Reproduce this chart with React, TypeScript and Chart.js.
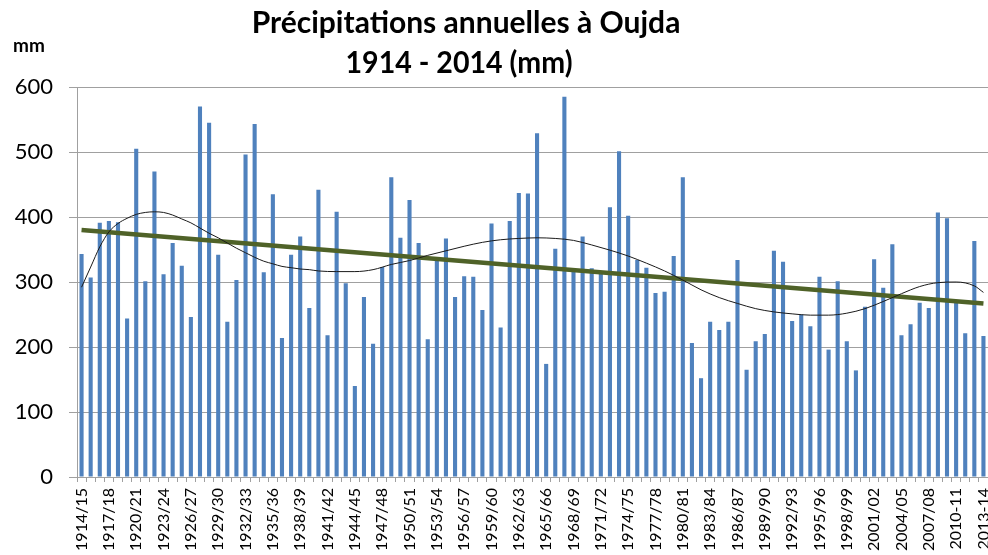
import React, { useEffect, useRef } from 'react';
import { Chart, registerables } from 'chart.js';

Chart.register(...registerables);

// ---------- data ----------
const firstYear = 1914;
const seasonCount = 100;
const seasons: string[] = [];
for (let i = 0; i < seasonCount; i++) {
  const y = firstYear + i;
  const next = String((y + 1) % 100).padStart(2, '0');
  seasons.push(y >= 2008 ? `${y}-${next}` : `${y}/${next}`);
}

const rainfall: number[] = [
  343, 307, 391, 394, 392, 244, 505, 301, 470, 312,
  360, 325, 246, 570, 545, 342, 239, 303, 496, 543,
  315, 435, 214, 342, 370, 260, 442, 218, 408, 298,
  140, 277, 205, 323, 461, 368, 426, 360, 212, 336,
  367, 277, 309, 308, 257, 390, 230, 394, 437, 436,
  529, 174, 351, 585, 317, 370, 321, 313, 415, 501,
  402, 334, 322, 283, 285, 340, 461, 206, 152, 239,
  226, 239, 334, 165, 209, 220, 348, 331, 240, 250,
  232, 308, 196, 301, 209, 164, 262, 335, 291, 358,
  218, 235, 268, 260, 407, 398, 268, 221, 363, 217,
];

// linear trend line end values
const trendStart = 380;
const trendEnd = 267;

// polynomial trend curve, read at these category indices
const polyIdx: number[] = [
  0, 1, 2, 3, 4, 5, 6, 7, 8, 9, 10, 11, 12, 13, 14, 15, 16, 17, 18, 19, 20,
  21, 22, 23, 24, 25, 26, 28, 30, 32, 34, 36, 38, 40, 42, 44, 46, 48, 50,
  52, 54, 56, 58, 60, 62, 64, 66, 68, 70, 72, 74, 76, 78, 80, 82, 84, 86,
  88, 90, 92, 94, 96, 98, 99,
];
const polyVal: number[] = [
  292, 323, 354, 377, 390, 398, 404, 407, 408, 407, 403, 397, 391, 383, 375,
  368, 360, 352, 345, 338, 332, 328, 324, 322, 320, 319, 317, 316, 316, 319,
  327, 333, 341, 348, 355, 361, 365, 367, 368, 367, 364, 357, 349, 340, 329,
  317, 303, 288, 276, 267, 259, 254, 251, 249, 249, 252, 259, 270, 282, 293,
  299, 300, 294, 284,
];

const yMin = 0;
const yMax = 600;
const yStep = 100;

const titleLines = ['Précipitations annuelles à Oujda', '1914 - 2014 (mm)'];
const unitLabel = 'mm';

// ---------- chart ----------
const W = 988;
const H = 555;

export default function App() {
  const ref = useRef<HTMLCanvasElement | null>(null);

  useEffect(() => {
    const canvas = ref.current;
    if (!canvas) return;

    const trendData: (number | null)[] = seasons.map(() => null);
    trendData[0] = trendStart;
    trendData[seasons.length - 1] = trendEnd;

    const polyData: (number | null)[] = seasons.map(() => null);
    polyIdx.forEach((idx, k) => {
      polyData[idx] = polyVal[k];
    });

    const textPlugin = {
      id: 'customTexts',
      afterDraw(chart: any) {
        const ctx = chart.ctx as CanvasRenderingContext2D;
        ctx.save();
        ctx.fillStyle = '#000000';
        ctx.textBaseline = 'alphabetic';
        ctx.textAlign = 'center';
        ctx.font = 'bold 30px Lato';
        ctx.fillText(titleLines[0], 466, 33, 432);
        ctx.fillText(titleLines[1], 459, 73, 227);
        ctx.textAlign = 'left';
        ctx.font = 'bold 19px Lato';
        ctx.fillText(unitLabel, 13, 52, 34);
        ctx.restore();
      },
    };

    const chart = new Chart(canvas, {
      type: 'bar',
      data: {
        labels: seasons,
        datasets: [
          {
            type: 'line',
            label: 'Poly',
            data: polyData,
            borderColor: '#1a1a1a',
            borderWidth: 1,
            pointRadius: 0,
            spanGaps: true,
            cubicInterpolationMode: 'monotone',
            fill: false,
            order: 1,
          } as any,
          {
            type: 'line',
            label: 'Linéaire',
            data: trendData,
            borderColor: '#4F6228',
            borderWidth: 4.5,
            pointRadius: 0,
            spanGaps: true,
            tension: 0,
            fill: false,
            order: 2,
          } as any,
          {
            type: 'bar',
            label: 'Précipitations',
            data: rainfall,
            backgroundColor: '#4F81BD',
            borderWidth: 0,
            categoryPercentage: 1,
            barPercentage: 0.45,
            order: 3,
          } as any,
        ],
      },
      options: {
        responsive: false,
        animation: false,
        events: [],
        layout: { padding: { top: 87, left: 0, right: 0, bottom: 0 } },
        plugins: {
          legend: { display: false },
          tooltip: { enabled: false },
          title: { display: false },
        },
        scales: {
          x: {
            type: 'category',
            offset: true,
            grid: {
              display: true,
              drawOnChartArea: false,
              drawTicks: true,
              tickLength: 5,
              offset: true,
              color: '#a0a0a0',
            },
            border: { display: true, color: '#a0a0a0', width: 1 },
            ticks: {
              autoSkip: false,
              minRotation: 90,
              maxRotation: 90,
              padding: 6,
              color: '#000000',
              font: { family: 'Lato', size: 16 },
              callback: (_v: any, idx: number) => (idx % 3 === 0 ? seasons[idx] : ''),
            },
            afterFit: (scale: any) => {
              scale.height = H - 477;
              scale.paddingLeft = 0;
              scale.paddingRight = 0;
            },
          },
          y: {
            min: yMin,
            max: yMax,
            grid: {
              color: '#a0a0a0',
              lineWidth: 1,
              drawTicks: true,
              tickLength: 8,
            },
            border: { display: true, color: '#a0a0a0', width: 1 },
            ticks: {
              stepSize: yStep,
              padding: 16,
              color: '#000000',
              font: { family: 'Lato', size: 22 },
            },
            afterFit: (scale: any) => {
              scale.width = 77;
            },
          },
        },
      },
      plugins: [textPlugin],
    } as any);

    return () => {
      chart.destroy();
    };
  }, []);

  return (
    <div style={{ position: 'absolute', left: 0, top: 0, width: W, height: H, overflow: 'hidden', background: '#ffffff' }}>
      <canvas ref={ref} width={W} height={H} style={{ width: W, height: H, display: 'block' }} />
    </div>
  );
}
